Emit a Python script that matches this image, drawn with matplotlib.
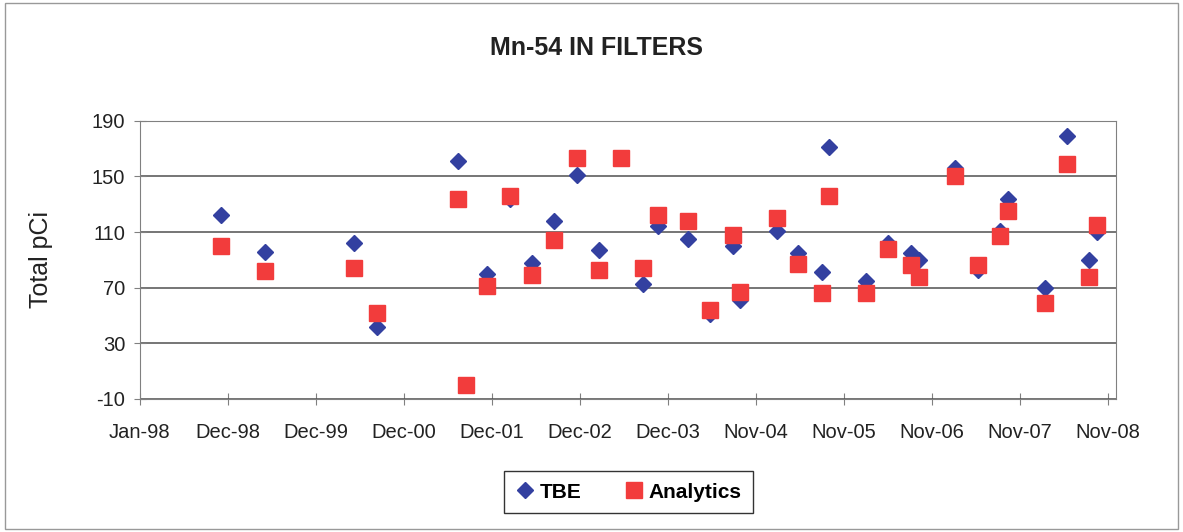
import matplotlib
matplotlib.use("Agg")
import matplotlib.pyplot as plt
import matplotlib.dates as mdates
import numpy as np
import pandas as pd

plt.rcParams['font.family'] = ['Liberation Sans', 'DejaVu Sans']
plt.rcParams['axes.unicode_minus'] = False

# sample dates and results (pCi)
tbe_dates = ['1998-11-27', '1999-05-26', '2000-05-25', '2000-08-26', '2001-07-25',
             '2001-11-22', '2002-02-23', '2002-05-22', '2002-08-23', '2002-11-22',
             '2003-02-22', '2003-05-23', '2003-08-22', '2003-10-22', '2004-02-19',
             '2004-05-21', '2004-08-22', '2004-09-21', '2005-02-18', '2005-05-17',
             '2005-08-21', '2005-09-21', '2006-02-18', '2006-05-20', '2006-08-21',
             '2006-09-24', '2007-02-17', '2007-05-21', '2007-08-20', '2007-09-21',
             '2008-02-20', '2008-05-21', '2008-08-19', '2008-09-19']
tbe = [122, 96, 102, 42, 161, 80, 134, 88, 118, 151, 97, 163, 73, 114, 105,
       51, 100, 61, 111, 95, 81, 171, 75, 102, 95, 90, 156, 83, 111, 134,
       70, 179, 90, 110]

ana_dates = ['1998-11-27', '1999-05-26', '2000-05-25', '2000-08-26', '2001-07-25',
             '2001-08-25', '2001-11-22', '2002-02-23', '2002-05-22', '2002-08-23',
             '2002-11-22', '2003-02-22', '2003-05-23', '2003-08-22', '2003-10-22',
             '2004-02-19', '2004-05-21', '2004-08-22', '2004-09-21', '2005-02-18',
             '2005-05-17', '2005-08-21', '2005-09-21', '2006-02-18', '2006-05-20',
             '2006-08-21', '2006-09-24', '2007-02-17', '2007-05-21', '2007-08-20',
             '2007-09-21', '2008-02-20', '2008-05-21', '2008-08-19', '2008-09-19']
analytics = [100, 82, 84, 52, 134, 0, 71, 136, 79, 104, 163, 83, 163, 84, 122,
             118, 54, 108, 67, 120, 87, 66, 136, 66, 98, 86, 78, 150, 86, 107,
             125, 59, 159, 78, 115]

yticks = [-10, 30, 70, 110, 150, 190]

fig = plt.figure(figsize=(11.83, 5.32), dpi=100)
ax = fig.add_axes([0.1183, 0.25, 0.8251, 0.523])

x_tbe = mdates.date2num(pd.to_datetime(tbe_dates))
x_ana = mdates.date2num(pd.to_datetime(ana_dates))

ax.plot(x_tbe, tbe, linestyle='none', marker='D', ms=8, color='#3340a0',
        label='TBE', zorder=3)
ax.plot(x_ana, analytics, linestyle='none', marker='s', ms=11, color='#f23c3c',
        label='Analytics', zorder=4)

# Excel-style date axis: 360-day major unit from Jan-98
start = mdates.date2num(pd.Timestamp('1998-01-01'))
ax.set_xticks(start + 360 * np.arange(12))
ax.xaxis.set_major_formatter(mdates.DateFormatter('%b-%y'))
ax.set_xlim(start, start + 3993)
ax.set_ylim(-10, 190)
ax.set_yticks(yticks)
ax.yaxis.grid(True, color='#505050', linewidth=1.1)
ax.set_axisbelow(True)
for s in ax.spines.values():
    s.set_color('#808080')
ax.tick_params(axis='both', labelsize=14.5, colors='#808080', labelcolor='#222222',
               length=9, direction='inout')
ax.tick_params(axis='y', pad=6)
ax.tick_params(axis='x', pad=13)

ax.set_ylabel('Total pCi', fontsize=18, color='#222222')
ax.yaxis.set_label_coords(-0.089, 0.5)
fig.text(0.504, 0.91, 'Mn-54 IN FILTERS', ha='center', va='center',
         fontsize=18, fontweight='bold', color='#222222')

leg = fig.legend(loc='center', bbox_to_anchor=(0.531, 0.075), ncol=2,
                 fancybox=False, edgecolor='#333333', framealpha=1,
                 prop={'size': 15, 'weight': 'bold'}, handletextpad=0.2,
                 columnspacing=2.0, handlelength=1.0, borderpad=0.55)
leg.get_frame().set_linewidth(1.0)

fig.patches.append(plt.Rectangle((0.004, 0.006), 0.992, 0.988, transform=fig.transFigure,
                                 fill=False, edgecolor='#999999', linewidth=1))

fig.savefig('out.png', dpi=100)
